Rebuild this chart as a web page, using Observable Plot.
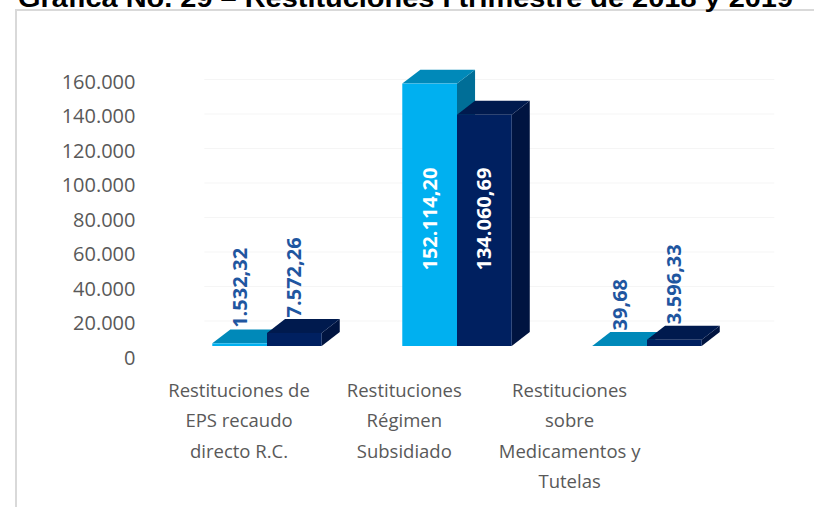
<!DOCTYPE html>
<html><head><meta charset="utf-8">
<script src="https://cdn.jsdelivr.net/npm/d3@7"></script>
<script src="https://cdn.jsdelivr.net/npm/@observablehq/plot@0.6"></script>
<style>
html,body{margin:0;padding:0;background:#fff;}
#wrap{position:relative;width:814px;height:507px;overflow:hidden;background:#fff;}
#frame{position:absolute;left:15px;top:9px;width:830px;height:530px;border-left:2px solid #d9d9d9;border-top:2px solid #d9d9d9;}
#chart{position:absolute;left:0;top:0;}
#title{position:absolute;left:0;top:0;}
</style></head><body>
<div id="wrap"><div id="frame"></div><div id="chart"></div>
<svg id="title" width="814" height="30"><text id="titleText" x="18" y="7" textLength="775" lengthAdjust="spacingAndGlyphs" font-family="Liberation Sans, Arial, sans-serif" font-weight="bold" font-size="26" fill="#000"></text></svg>
</div>
<script>
const titleText = "Gráfica No. 29 – Restituciones I trimestre de 2018 y 2019";
const categories = ["Restituciones de\nEPS recaudo\ndirecto R.C.", "Restituciones\nRégimen\nSubsidiado", "Restituciones\nsobre\nMedicamentos y\nTutelas"];
const series = ["2018", "2019"];
const values2018 = [1532.32, 152114.20, 39.68];
const values2019 = [7572.26, 134060.69, 3596.33];
const yTicks = [0, 20000, 40000, 60000, 80000, 100000, 120000, 140000, 160000];

document.getElementById("titleText").textContent = titleText;

const loc = d3.formatLocale({decimal: ",", thousands: ".", grouping: [3], currency: ["", ""]});
const fmtTick = loc.format(",.0f");
const fmtVal = loc.format(",.2f");

// geometry (category units / data units)
const W = 0.288, DX = 0.095, DY = 8100;
const frontC = ["#00b0f0", "#002060"];
const topC = ["#0089b9", "#001a4e"];
const sideC = ["#006e97", "#001440"];

const seriesVals = [values2018, values2019];
const rows = [];
categories.forEach((c, i) => {
  series.forEach((s, j) => {
    const v = seriesVals[j][i];
    rows.push({id: i + "-" + j, i, j, v, x0: i + (j - 1) * W, x1: i + j * W,
      mid: (values2018[i] + values2019[i]) / 4});
  });
});
const side = rows.flatMap(d => [
  {id: d.id, j: d.j, x: d.x1, y1: 0, y2: d.v},
  {id: d.id, j: d.j, x: d.x1 + DX, y1: DY, y2: d.v + DY}
]);
const topF = rows.flatMap(d => [
  {id: d.id, j: d.j, y: d.v, x1: d.x0, x2: d.x1},
  {id: d.id, j: d.j, y: d.v + DY, x1: d.x0 + DX, x2: d.x1 + DX}
]);

const barMarks = [0, 1].flatMap(j => [
  Plot.areaY(side.filter(d => d.j === j), {x: "x", y1: "y1", y2: "y2", z: "id", fill: sideC[j]}),
  Plot.areaX(topF.filter(d => d.j === j), {y: "y", x1: "x1", x2: "x2", z: "id", fill: topC[j]}),
  Plot.rect(rows.filter(d => d.j === j), {x1: "x0", x2: "x1", y1: 0, y2: "v", fill: frontC[j]})
]);

const catRows = categories.map((label, i) => ({label, i}));
const outside = rows.filter(d => d.v < 20000);
const inside = rows.filter(d => d.v >= 20000);

const chart = Plot.plot({
  width: 814,
  height: 507,
  marginLeft: 267,
  marginRight: 167,
  marginTop: 70,
  marginBottom: 161,
  style: {fontFamily: "'Open Sans', sans-serif", background: "transparent", overflow: "visible"},
  x: {domain: [0, 2], axis: null},
  y: {domain: [0, 160000]},
  marks: [
    Plot.ruleY(yTicks.slice(1), {x1: -0.33, x2: 2.67, stroke: "#f5f5f5", strokeWidth: 1, dy: 9}),
    Plot.axisY(yTicks, {tickSize: 0, tickPadding: 132, dy: 12, tickFormat: fmtTick, fontSize: 20, color: "#595959", label: null}),
    ...barMarks,
    Plot.text(outside, {x: d => (d.x0 + d.x1) / 2, y: "v", text: d => fmtVal(d.v), rotate: -90, textAnchor: "start", dy: -16, fill: "#1f56a0", fontWeight: "bold", fontSize: 20}),
    Plot.text(inside, {x: d => (d.x0 + d.x1) / 2, y: "mid", text: d => fmtVal(d.v), rotate: -90, textAnchor: "middle", dy: -4, fill: "#ffffff", fontWeight: "bold", fontSize: 20}),
    Plot.text(catRows, {x: d => d.i * 0.87 - 0.15, frameAnchor: "bottom", dy: 29, text: "label", lineAnchor: "top", lineHeight: 1.64, fontSize: 18.5, fill: "#595959"})
  ]
});
document.getElementById("chart").appendChild(chart);
</script>
</body></html>
